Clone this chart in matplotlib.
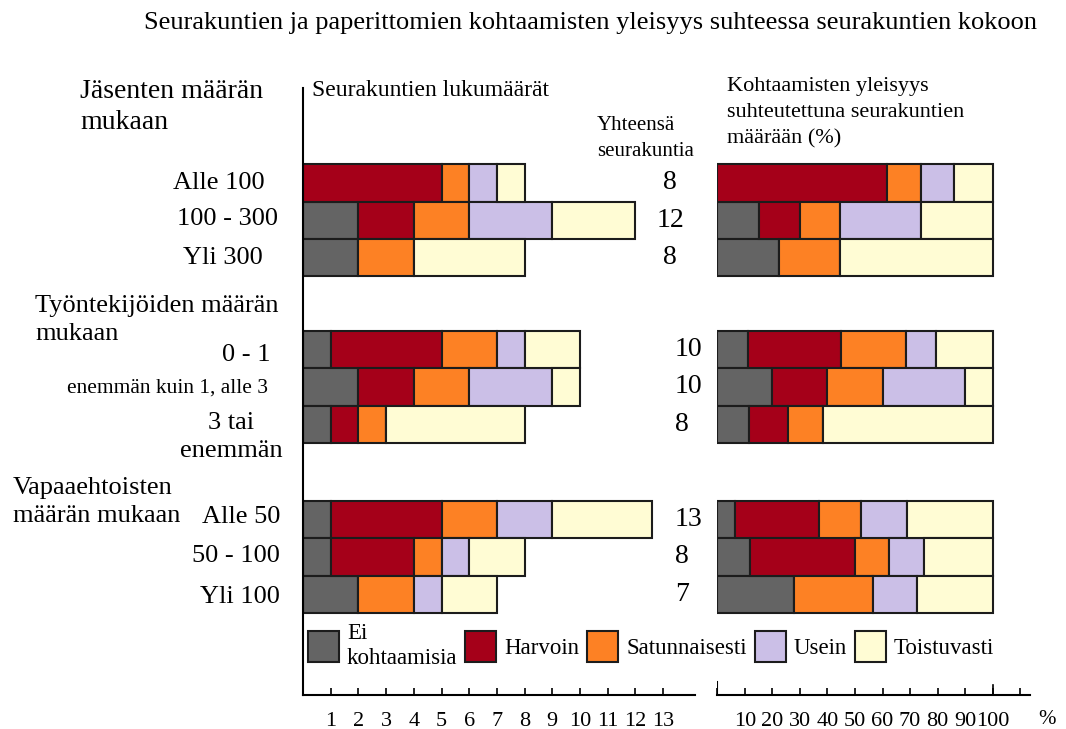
import numpy as np
import matplotlib
matplotlib.use("Agg")
import matplotlib.pyplot as plt
from matplotlib.patches import Patch

plt.rcParams['font.family'] = ['Liberation Serif', 'DejaVu Serif']

# data
categories = ['Ei\nkohtaamisia', 'Harvoin', 'Satunnaisesti', 'Usein', 'Toistuvasti']
colors = ['#646464', '#a50019', '#fd8124', '#cbbfe7', '#fffcd4']

row_labels = ['Alle 100', '100 - 300', 'Yli 300',
              '0 - 1', 'enemmän kuin 1, alle 3', '3 tai\nenemmän',
              'Alle 50', '50 - 100', 'Yli 100']
group_labels = ['Jäsenten määrän\nmukaan', 'Työntekijöiden määrän\nmukaan',
                'Vapaaehtoisten\nmäärän mukaan']
totals = [8, 12, 8, 10, 10, 8, 13, 8, 7]

counts = np.array([
    [0, 5, 1, 1, 1],
    [2, 2, 2, 3, 3],
    [2, 0, 2, 0, 4],
    [1, 4, 2, 1, 2],
    [2, 2, 2, 3, 1],
    [1, 1, 1, 0, 5],
    [1, 4, 2, 2, 3.6],
    [1, 3, 1, 1, 2],
    [2, 0, 2, 1, 2],
])
percents = np.array([
    [0, 61.5, 12.5, 12, 14],
    [15, 15, 14.5, 29.5, 26],
    [22.5, 0, 22, 0, 55.5],
    [11, 34, 23.5, 11, 20.5],
    [20, 20, 20, 30, 10],
    [11.5, 14, 13, 0, 61.5],
    [6.5, 30.5, 15, 17, 31],
    [12, 38, 12.5, 12.5, 25],
    [28, 0, 28.5, 16, 27.5],
])

W, H = 1066, 729
fig = plt.figure(figsize=(W / 100, H / 100), dpi=100)


def fx(x):
    return x / W


def fy(y):
    return 1 - y / H


pos = [0, 1, 2, 4.45, 5.45, 6.45, 9, 10, 11]
ylim = (13.69, -2.54)

ax1 = fig.add_axes([fx(303), fy(695), fx(695 - 303), (695 - 88) / H])
ax2 = fig.add_axes([fx(717.3), fy(695), fx(1030 - 717.3), (695 - 88) / H])

for ax, data in [(ax1, counts), (ax2, percents)]:
    left = np.zeros(len(pos))
    for j in range(len(categories)):
        ax.barh(pos, data[:, j], left=left, height=1.0, color=colors[j],
                edgecolor='#1c1c1c', linewidth=1.5)
        left += data[:, j]
    ax.set_ylim(*ylim)
    ax.set_yticks([])
    ax.spines['top'].set_visible(False)
    ax.spines['right'].set_visible(False)
    ax.spines['bottom'].set_linewidth(1.5)
    ax.tick_params(axis='x', direction='in', length=5, width=1.2,
                   labelsize=16, pad=12)

ax1.set_xlim(0, 392 / 27.7)
ax1.set_xticks(range(1, 14))
ax1.spines['left'].set_linewidth(1.5)

ax2.set_xlim(0, (1030 - 717.3) / 2.754)
ax2.spines['left'].set_visible(False)
ax2.set_xticks(range(0, 111, 10))
ax2.set_xticklabels([''] + [str(v) for v in range(10, 101, 10)] + [''])
ax2.axvline(0, 0, 0.022, color='black', lw=1.5)
ax2.axvline(100, 0, 0.016, color='black', lw=1.2)
fig.text(fx(1047), fy(720), '%', fontsize=15, ha='center', va='center')

# totals column
for i, t in enumerate(totals):
    if i < 3:
        ax1.text((670 - 303) / 27.7, pos[i], str(t), fontsize=20,
                 ha='center', va='center', clip_on=False)
    else:
        ax1.text((675 - 303) / 27.7, pos[i], str(t), fontsize=20,
                 ha='left', va='center', clip_on=False)

# row labels
row_px = [(265, 183, 19), (278, 219, 19), (263, 258, 19),
          (270, 355, 19), (268, 388, 15.5), (231, 437, 19),
          (280, 517, 19), (280, 556, 19), (280, 597, 19)]
for lab, (x, y, fs) in zip(row_labels, row_px):
    ha = 'center' if '\n' in lab else 'right'
    fig.text(fx(x), fy(y), lab, fontsize=fs, ha=ha, va='center',
             multialignment='center', linespacing=1.35)

group_px = [(80, 107, 20), (35, 320, 19), (13, 502, 19)]
for lab, (x, y, fs) in zip(group_labels, group_px):
    fig.text(fx(x), fy(y), lab, fontsize=fs, ha='left', va='center',
             linespacing=1.3)

fig.text(fx(591), fy(23), 'Seurakuntien ja paperittomien kohtaamisten yleisyys '
         'suhteessa seurakuntien kokoon', fontsize=19, ha='center', va='center')
fig.text(fx(312), fy(90), 'Seurakuntien lukumäärät', fontsize=17,
         ha='left', va='center')
fig.text(fx(727), fy(113), 'Kohtaamisten yleisyys\nsuhteutettuna seurakuntien\n'
         'määrään (%)', fontsize=16, ha='left', va='center', linespacing=1.5)
fig.text(fx(597), fy(139), 'Yhteensä\nseurakuntia', fontsize=15,
         ha='left', va='center', linespacing=1.5)

handles = [Patch(facecolor=c, edgecolor='#1c1c1c', linewidth=1.5) for c in colors]
fig.legend(handles, categories, ncol=5, loc='center left',
           bbox_to_anchor=(fx(308), fy(646)), frameon=False, fontsize=16.5,
           handlelength=1.35, handleheight=1.65, handletextpad=0.35,
           columnspacing=0.35, borderpad=0, borderaxespad=0)

plt.savefig('out.png', dpi=100)
